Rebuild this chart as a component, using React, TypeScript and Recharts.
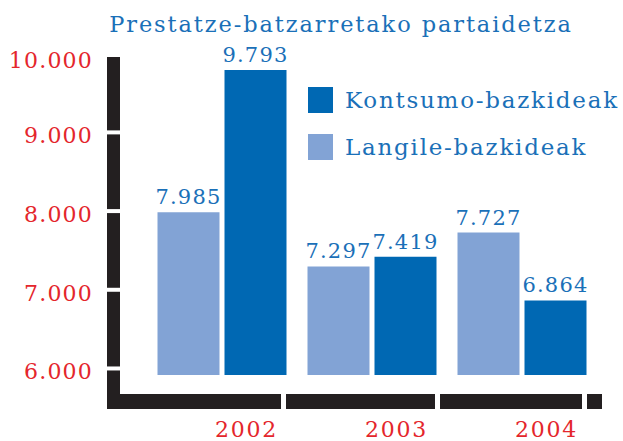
import React from 'react';
import { BarChart, Bar, XAxis, YAxis, Legend, LabelList } from 'recharts';

const years = ['2002', '2003', '2004'];
const langile = [7985, 7297, 7727];
const kontsumo = [9793, 7419, 6864];
const yTicks = [6000, 7000, 8000, 9000, 10000];
const seriesNames = { kontsumo: 'Kontsumo-bazkideak', langile: 'Langile-bazkideak' };

const data = years.map((year, i) => ({ year, langile: langile[i], kontsumo: kontsumo[i] }));

const DARK = '#0068b3';
const LIGHT = '#82a3d5';
const TEXT_BLUE = '#1a70b8';
const RED = '#e4262c';
const FRAME = '#231f20';
const FONT = '"DejaVu Serif", serif';

// 9793 -> "9.793"
const fmt = (v: number) => String(v).replace(/\B(?=(\d{3})+(?!\d))/g, '.');

// thick black frame drawn behind the axes (decoration only)
const Frame = () => (
  <g>
    <rect x={107} y={57} width={13} height={352} fill={FRAME} />
    <rect x={107} y={394} width={174} height={15} fill={FRAME} />
    <rect x={286} y={394} width={149} height={15} fill={FRAME} />
    <rect x={440} y={394} width={142} height={15} fill={FRAME} />
    <rect x={587} y={394} width={15} height={15} fill={FRAME} />
  </g>
);

const YTick = ({ x, y, payload }: any) => (
  <text x={x} y={y} dy={payload.value === 10000 ? 14 : 11} textAnchor="end" fill={RED} fontSize={22} fontFamily={FONT} letterSpacing={1.2}>
    {fmt(payload.value)}
  </text>
);

const XTick = ({ x, y, payload }: any) => (
  <text x={x + 25} y={y} dy={54} textAnchor="middle" fill={RED} fontSize={22} fontFamily={FONT} letterSpacing={1.8}>
    {payload.value}
  </text>
);

const LegendContent = () => (
  <div style={{ fontFamily: FONT }}>
    {[
      { name: seriesNames.kontsumo, color: DARK },
      { name: seriesNames.langile, color: LIGHT },
    ].map((item, i) => (
      <div key={item.name} style={{ display: 'flex', alignItems: 'center', height: 26, marginBottom: i === 0 ? 21 : 0 }}>
        <span style={{ width: 25, height: 26, background: item.color, display: 'inline-block', marginRight: 12 }} />
        <span style={{ color: TEXT_BLUE, fontSize: 23, letterSpacing: 1.75, whiteSpace: 'nowrap' }}>{item.name}</span>
      </div>
    ))}
  </div>
);

export default function App() {
  return (
    <div style={{ position: 'absolute', left: 0, top: 0, width: 623, height: 441, background: '#fff' }}>
      <BarChart
        width={623}
        height={441}
        data={data}
        margin={{ top: 50, right: 26.5, bottom: 0, left: 0 }}
        barSize={62}
        barGap={5}
      >
        <text x={341} y={32} textAnchor="middle" fill={TEXT_BLUE} fontSize={22.5} fontFamily={FONT} letterSpacing={1.9}>
          Prestatze-batzarretako partaidetza
        </text>
        <Frame />
        <XAxis
          dataKey="year"
          axisLine={false}
          tickLine={false}
          height={66}
          padding={{ left: 26.5, right: 0 }}
          tick={<XTick />}
        />
        <YAxis
          width={120}
          domain={[5917, 10047]}
          ticks={yTicks}
          allowDataOverflow
          axisLine={false}
          tickSize={13}
          tickMargin={14}
          tickLine={{ stroke: '#fff', strokeWidth: 4 }}
          tick={<YTick />}
        />
        <Legend
          layout="vertical"
          align="center"
          verticalAlign="middle"
          content={<LegendContent />}
          wrapperStyle={{ position: 'absolute', left: 308, top: 87, width: 315, height: 73 }}
        />
        <Bar dataKey="langile" fill={LIGHT} isAnimationActive={false}>
          <LabelList dataKey="langile" position="top" offset={8} formatter={(v: any) => fmt(v)} fill={TEXT_BLUE} fontSize={21} fontFamily={FONT} letterSpacing={1.2} />
        </Bar>
        <Bar dataKey="kontsumo" fill={DARK} isAnimationActive={false}>
          <LabelList dataKey="kontsumo" position="top" offset={8} formatter={(v: any) => fmt(v)} fill={TEXT_BLUE} fontSize={21} fontFamily={FONT} letterSpacing={1.2} />
        </Bar>
      </BarChart>
    </div>
  );
}
